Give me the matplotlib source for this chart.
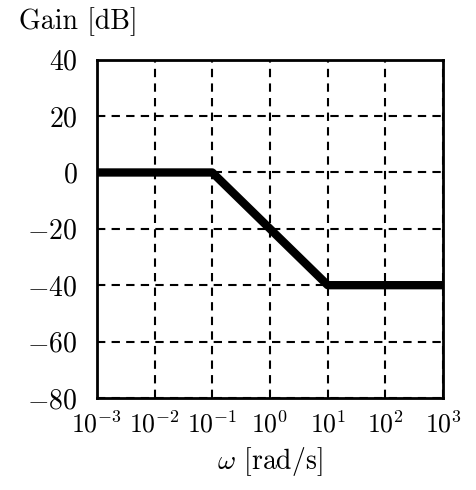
import matplotlib.pyplot as plt

plt.rcParams['mathtext.fontset'] = 'cm'
plt.rcParams['font.family'] = 'serif'
plt.rcParams['font.serif'] = ['cmr10', 'DejaVu Serif']
plt.rcParams['axes.formatter.use_mathtext'] = True

# asymptotic Bode gain
omega = [1e-3, 1e-1, 1e1, 1e3]
gain = [0, 0, -40, -40]
x_ticks = [1e-3, 1e-2, 1e-1, 1e0, 1e1, 1e2, 1e3]
y_ticks = [40, 20, 0, -20, -40, -60, -80]

fig = plt.figure(figsize=(4.77, 4.9), dpi=100)
ax = fig.add_axes([0.203, 0.188, 0.726, 0.69])

ax.plot(omega, gain, color='black', linewidth=6, solid_capstyle='butt')
ax.set_xscale('log')
ax.set_xlim(1e-3, 1e3)
ax.set_ylim(-80, 40)
ax.set_xticks(x_ticks)
ax.set_yticks(y_ticks)
ax.set_yticklabels([r'$%d$' % v for v in y_ticks])
ax.minorticks_off()
ax.tick_params(axis='y', length=0, labelsize=20, pad=14)
ax.tick_params(axis='x', length=0, labelsize=18.5, pad=9)
ax.grid(True, color='black', linestyle=(0, (4, 3)), linewidth=1.5)
for s in ax.spines.values():
    s.set_linewidth(2)

fig.text(0.04, 0.955, 'Gain [dB]', fontsize=20, va='center', ha='left')
ax.set_xlabel(r'$\omega$ [rad/s]', fontsize=20, labelpad=6)

fig.savefig('out.png', dpi=100)
